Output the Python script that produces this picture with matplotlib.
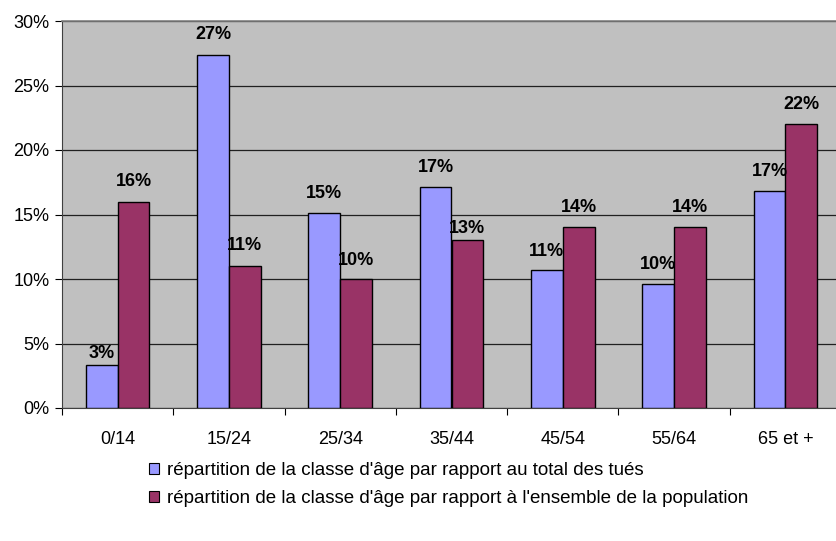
import matplotlib
matplotlib.use("Agg")
import matplotlib.pyplot as plt
import numpy as np
from matplotlib.patches import Patch

plt.rcParams['font.family'] = ['Liberation Sans', 'DejaVu Sans']

categories = ["0/14", "15/24", "25/34", "35/44", "45/54", "55/64", "65 et +"]
tues = [3.3, 27.4, 15.1, 17.1, 10.7, 9.6, 16.8]
population = [16.0, 11.0, 10.0, 13.0, 14.0, 14.0, 22.0]
labels_tues = ["3%", "27%", "15%", "17%", "11%", "10%", "17%"]
labels_pop = ["16%", "11%", "10%", "13%", "14%", "14%", "22%"]
series_names = ["répartition de la classe d'âge par rapport au total des tués",
                "répartition de la classe d'âge par rapport à l'ensemble de la population"]
yticks = [0, 5, 10, 15, 20, 25, 30]

# label offsets (points) above bars - styling only
off_tues = [2.5, 8, 8, 8, 7.5, 8, 8]
off_pop = [8, 8.5, 7.5, 2.5, 8, 8, 8]

c1 = "#9999FF"
c2 = "#993366"
FS = 13

fig = plt.figure(figsize=(8.36, 5.41), dpi=100)
ax = fig.add_axes([62/836, 1-408/541, (841-62)/836, (408-21)/541])
ax.set_facecolor("#C0C0C0")

x = np.arange(len(categories))
w = 0.285
b1 = ax.bar(x - w/2, tues, w, color=c1, edgecolor="black", linewidth=1.0, zorder=3)
b2 = ax.bar(x + w/2, population, w, color=c2, edgecolor="black", linewidth=1.0, zorder=3)

for bars, labs, offs in ((b1, labels_tues, off_tues), (b2, labels_pop, off_pop)):
    for rect, lab, o in zip(bars, labs, offs):
        ax.annotate(lab, (rect.get_x() + rect.get_width()/2, rect.get_height()),
                    xytext=(0, o), textcoords="offset points", ha="center", va="bottom",
                    fontsize=FS, fontweight="bold", zorder=4)

ax.set_ylim(0, 30)
ax.set_xlim(-0.5, len(categories) - 0.5)
ax.set_yticks(yticks)
ax.set_yticklabels([f"{v}%" for v in yticks], fontsize=FS)
ax.yaxis.grid(True, color="#202020", linewidth=0.9, zorder=1)
ax.set_axisbelow(True)

ax.set_xticks(x)
ax.set_xticklabels(categories, fontsize=FS)
ax.tick_params(axis="x", length=0, pad=16.5)
ax.set_xticks(np.arange(len(categories) + 1) - 0.5, minor=True)
ax.tick_params(axis="x", which="minor", length=5, color="black", width=0.8)
ax.tick_params(axis="y", length=5, color="black", width=0.8, pad=4)

for s in ["top", "right"]:
    ax.spines[s].set_color("#808080")
    ax.spines[s].set_linewidth(1.2)
ax.spines["left"].set_color("#404040")
ax.spines["bottom"].set_color("#404040")

handles = [Patch(facecolor=c1, edgecolor="black", linewidth=0.8),
           Patch(facecolor=c2, edgecolor="black", linewidth=0.8)]
fig.legend(handles, series_names, loc="upper left", bbox_to_anchor=(0.178, 0.146),
           frameon=False, fontsize=13.5, handlelength=0.55, handleheight=0.55,
           handletextpad=0.4, labelspacing=0.6, borderpad=0, borderaxespad=0)

fig.savefig("out.png", dpi=100)
